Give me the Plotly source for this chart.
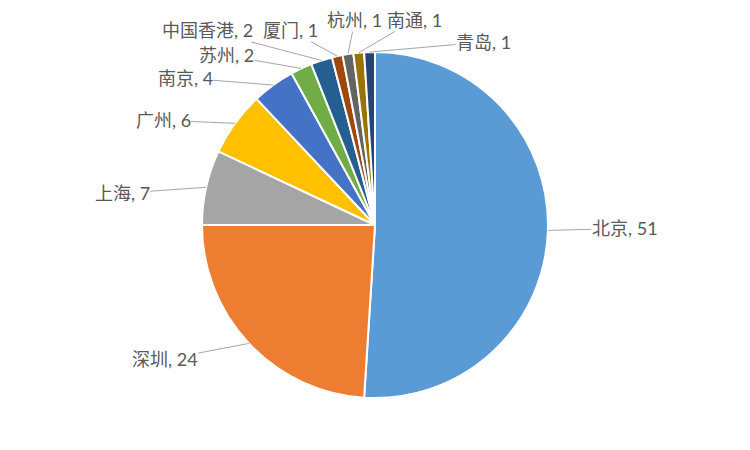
import math
import plotly.graph_objects as go

# ---- data ----
cities = ["北京", "深圳", "上海", "广州", "南京", "苏州", "中国香港", "厦门", "杭州", "南通", "青岛"]
counts = [51, 24, 7, 6, 4, 2, 2, 1, 1, 1, 1]
colors = ["#5B9BD5", "#ED7D31", "#A5A5A5", "#FFC000", "#4472C4", "#70AD47",
          "#255E91", "#9E480E", "#636363", "#997300", "#264478"]

# label text offsets (pixels) from slice edge point to label centre
label_dx = [77, -84, -84, -72, -88, -75, -114, -47, 7, 56, 114]
label_dy = [-2, 16, 6, -3, -7, -13, -30, -26, -34, -33, -10]

W, H = 750, 450
# page body adds an 8px margin; compensate so the pie is centred like the reference
CX, CY, R = 367, 217, 173

fig = go.Figure()
fig.add_trace(go.Pie(
    labels=cities,
    values=counts,
    sort=False,
    direction="clockwise",
    rotation=0,
    textinfo="none",
    hoverinfo="label+value",
    marker=dict(colors=colors, line=dict(color="white", width=2)),
    domain=dict(x=[(CX - R) / W, (CX + R) / W], y=[1 - (CY + R) / H, 1 - (CY - R) / H]),
    showlegend=False,
))

total = sum(counts)
cum = 0
annotations = []
for i, (c, v) in enumerate(zip(cities, counts)):
    mid = (cum + v / 2) / total
    cum += v
    theta = 2 * math.pi * mid
    ex = CX + R * math.sin(theta)
    ey = CY - R * math.cos(theta)
    annotations.append(dict(
        x=ex / W, y=1 - ey / H, xref="paper", yref="paper",
        text=f"{c}, {v}",
        showarrow=True, arrowhead=0, arrowwidth=1, arrowcolor="#A6A6A6",
        ax=label_dx[i], ay=label_dy[i], axref="pixel", ayref="pixel",
        font=dict(family="Lato, 'Noto Sans CJK SC', sans-serif", size=18, color="#595959"),
        borderpad=0,
    ))

fig.update_layout(
    width=W, height=H,
    margin=dict(l=0, r=0, t=0, b=0),
    paper_bgcolor="white",
    plot_bgcolor="white",
    annotations=annotations,
)

fig.write_html("out.html")
